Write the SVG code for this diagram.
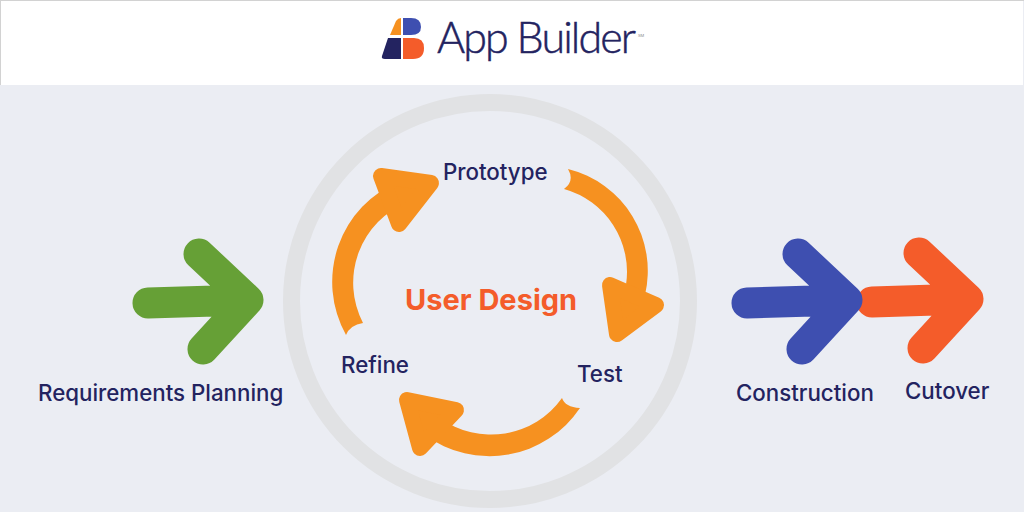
<svg xmlns="http://www.w3.org/2000/svg" width="1024" height="512" viewBox="0 0 1024 512">
<style>
.lbl{font-family:"Inter","Liberation Sans",sans-serif;font-weight:450;font-size:22.300px;fill:#232360}
.arr{fill:none;stroke-width:31;stroke-linecap:round;stroke-linejoin:round}
.o{fill:#F69120}
.h{fill:#F69120;stroke:#F69120;stroke-width:16;stroke-linejoin:round}
</style>
<rect width="1024" height="512" fill="#EBEDF3"/>
<rect x="1" y="1" width="1022" height="84" fill="#fff"/>
<rect width="1024" height="1" fill="#D2D2D2"/>
<rect y="0" width="1" height="85" fill="#D2D2D2"/>
<g id="logo">
<path d="M390 35 396 21Q398 18 401 18V35Z" fill="#F69120"/>
<path d="M403 18H411Q421 18 421 27Q421 35 411 35H403Z" fill="#3E4FB0"/>
<path d="M382 56 388 38H401V59H385Q381 59 382 56Z" fill="#232360"/>
<path d="M403 38H414Q424 38 424 48Q424 59 413 59H403Z" fill="#F45C2A"/>
<text x="437" y="53" font-family="Lato,'Liberation Sans',sans-serif" font-size="43" font-weight="300" fill="#232360" stroke="#232360" stroke-width="0.500" textLength="199" lengthAdjust="spacing">App Builder</text>
<text x="638" y="37" font-family="Inter,'Liberation Sans',sans-serif" font-size="4" fill="#888">SM</text>
</g>
<g id="ring"><circle cx="490" cy="301" r="198.500" fill="none" stroke="#E1E2E4" stroke-width="17"/></g>
<g id="connectors">
<g id="arc-prototype-test">
<path class="o" d="M568 169A105 105 0 0 1 645 295L626 285A86 86 0 0 0 564 189Q575 181 568 169Z"/>
<path class="h" d="M610 285 656 305 617 334Z"/>
</g>
<g id="arc-test-refine">
<path class="o" d="M580 408A109 109 0 0 1 425 435L440 418A87 87 0 0 0 562 398Q565 407 580 408Z"/>
<path class="h" d="M407 400 456 410 420 448Z"/>
</g>
<g id="arc-refine-prototype">
<path class="o" d="M346 335A109 109 0 0 1 400 181L408 202A87 87 0 0 0 363 323Q350 325 346 335Z"/>
<path class="h" d="M381 176 431 183 399 224Z"/>
</g>
</g>
<g id="requirements-planning">
<path class="arr" stroke="#66A036" d="M148 303 248 300M199 254 248 300 203 349"/>
<text class="lbl" x="38" y="401">Requirements Planning</text>
</g>
<g id="cutover">
<path class="arr" stroke="#F45C2A" d="M872 302 968 299M919 253 968 299 923 348"/>
<text class="lbl" x="905" y="399">Cutover</text>
</g>
<g id="construction">
<path class="arr" stroke="#3E4FB0" d="M747 303 847 300M798 254 847 300 802 349"/>
<text class="lbl" x="736" y="401">Construction</text>
</g>
<g id="user-design"><text x="405" y="310" font-family="Inter,'Liberation Sans',sans-serif" font-size="29" font-weight="700" fill="#F45C2A">User Design</text></g>
<g id="prototype"><text class="lbl" x="443" y="180">Prototype</text></g>
<g id="refine"><text class="lbl" x="341" y="373">Refine</text></g>
<g id="test"><text class="lbl" x="577" y="382">Test</text></g>
</svg>
